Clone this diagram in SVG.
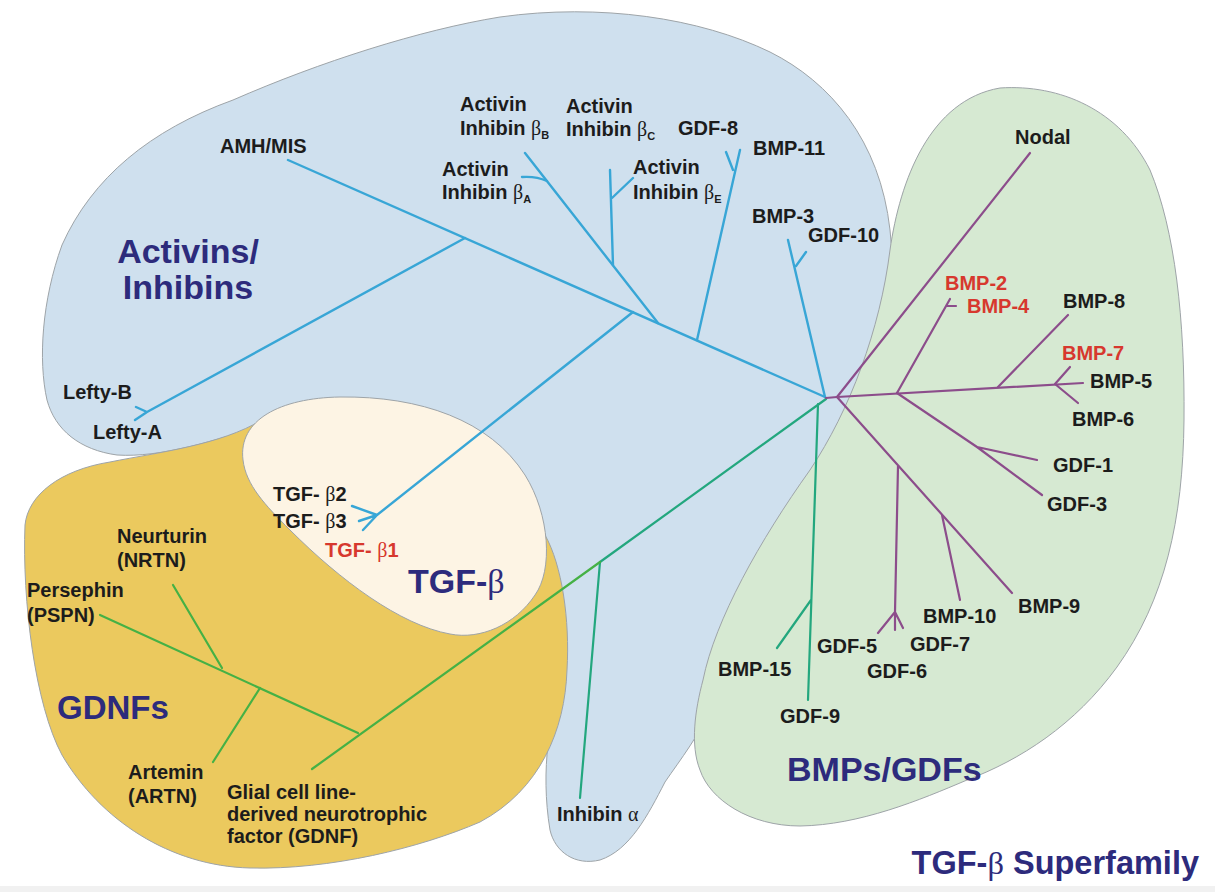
<svg xmlns="http://www.w3.org/2000/svg" width="1215" height="892" viewBox="0 0 1215 892">
<style>
.lbl{font-family:"Liberation Sans",Arial,sans-serif;font-weight:bold;font-size:20px;fill:#1c1c1c}
.red{fill:#d7382e}
.grp{font-family:"Liberation Sans",Arial,sans-serif;font-weight:bold;font-size:34px;fill:#2d2b7c}
.gk{font-family:"Liberation Serif","DejaVu Serif",serif;font-weight:normal}
.sub{font-size:11px}
.bl{stroke:#38a6d6;stroke-width:2.4;fill:none;stroke-linecap:round;stroke-linejoin:round}
.pu{stroke:#8c4d8b;stroke-width:2.2;fill:none;stroke-linecap:round;stroke-linejoin:round}
.tl{stroke:#23a77e;stroke-width:2.2;fill:none;stroke-linecap:round}
.gn{stroke:#45b145;stroke-width:2.2;fill:none;stroke-linecap:round}
.reg{stroke:#9ea4a8;stroke-width:1}
</style>
<rect width="1215" height="892" fill="#ffffff"/>
<rect y="886" width="1215" height="6" fill="#f1f1f1"/>

<g id="regions">
  <path id="region-activins" class="reg" fill="#cfe0ee" d="M 500,17 C 600,3 700,18 770,52 C 830,82 880,140 890,230 C 900,320 880,400 840,460 C 790,540 740,640 715,700 C 700,735 680,760 665,782 C 648,815 630,850 600,860 C 575,866 555,852 550,830 C 545,800 545,770 548,745 L 560,680 L 560,600 L 450,430 L 270,422 C 220,440 160,458 117,455 C 80,450 55,430 47,400 C 38,360 42,300 62,245 C 92,178 150,130 233,100 C 320,62 420,30 500,17 Z"/>
  <path id="region-bmps" class="reg" fill="#d6e9d2" d="M 1000,88 C 1060,84 1120,110 1150,170 C 1175,230 1185,320 1184,420 C 1183,520 1165,600 1117,667 C 1075,725 1020,760 967,780 C 920,800 860,825 800,826 C 750,826 710,800 700,770 C 690,745 695,710 703,680 C 715,620 760,540 810,470 C 850,410 880,330 890,250 C 900,180 930,100 1000,88 Z"/>
  <path id="region-gdnfs" class="reg" fill="#ebc95e" d="M 25,525 C 28,495 60,470 110,462 C 160,452 220,445 262,420 L 350,415 L 500,470 L 545,535 C 562,565 570,620 567,670 C 565,730 540,790 480,822 C 420,848 330,870 250,868 C 170,866 100,820 62,755 C 35,705 22,600 25,525 Z"/>
  <path id="region-tgfb" class="reg" fill="#fdf4e4" d="M 243,460 C 238,420 280,398 340,397 C 420,396 490,420 525,475 C 550,515 553,570 535,595 C 515,625 480,640 450,634 C 400,625 340,580 290,530 C 265,505 246,485 243,460 Z"/>
</g>

<g id="connectors">
  <path class="bl" d="M 288,160 L 825,397"/>
  <path class="bl" d="M 465,238 L 147,412 M 147,412 L 136,407 M 147,412 L 135,420"/>
  <path class="bl" d="M 633,312 L 377,515 M 377,515 L 352,506 M 377,515 L 359,521 M 377,515 L 363,530"/>
  <path class="bl" d="M 658,323 L 525,153"/>
  <path class="bl" d="M 547,181 Q 536,176 522,177"/>
  <path class="bl" d="M 613,265 L 610,170 M 612,198 L 633,178"/>
  <path class="bl" d="M 697,340 L 740,150 M 733,170 L 726,152"/>
  <path class="bl" d="M 825,397 L 788,240 M 796,266 L 806,252"/>
  <path class="tl" d="M 826,399 L 600,562"/>
  <path class="tl" d="M 600,562 L 580,798"/>
  <path class="tl" d="M 818,404 L 808,700 M 811,600 L 777,648"/>
  <path class="gn" d="M 600,562 L 312,769"/>
  <path class="gn" d="M 100,615 L 358,733"/>
  <path class="gn" d="M 173,585 L 222,668"/>
  <path class="gn" d="M 260,688 L 213,762"/>
  <path class="pu" d="M 826,398 L 837,397"/>
  <path class="pu" d="M 837,397 L 1030,153"/>
  <path class="pu" d="M 837,397 L 1083,383"/>
  <path class="pu" d="M 897,393 L 950,299 M 947,306 L 956,306"/>
  <path class="pu" d="M 998,387 L 1068,315"/>
  <path class="pu" d="M 1055,384 L 1070,367 M 1055,384 L 1078,403"/>
  <path class="pu" d="M 897,393 L 977,447 L 1042,495 M 977,447 L 1037,460"/>
  <path class="pu" d="M 837,397 L 1012,593"/>
  <path class="pu" d="M 898,466 L 895,612 M 895,612 L 878,633 M 895,612 L 895,630 M 895,612 L 903,628"/>
  <path class="pu" d="M 942,515 L 960,600"/>
</g>

<g id="group-labels">
  <text id="t-activins" class="grp" text-anchor="middle"><tspan x="188" y="263">Activins/</tspan><tspan x="188" y="299">Inhibins</tspan></text>
  <text id="t-tgfb" class="grp" x="408" y="593">TGF-<tspan class="gk">β</tspan></text>
  <text id="t-gdnfs" class="grp" x="57" y="719" style="font-size:33px">GDNFs</text>
  <text id="t-bmps" class="grp" x="787" y="781">BMPs/GDFs</text>
  <text id="t-title" class="grp" x="1199" y="874" text-anchor="end" style="font-size:32.5px">TGF-<tspan class="gk">β</tspan> Superfamily</text>
</g>

<g id="n-amh"><text class="lbl" x="220" y="153">AMH/MIS</text></g>
<g id="n-betaB"><text class="lbl" x="460" y="111">Activin</text><text class="lbl" x="460" y="135">Inhibin <tspan class="gk">β</tspan><tspan class="sub" dy="4">B</tspan></text></g>
<g id="n-betaC"><text class="lbl" x="566" y="113">Activin</text><text class="lbl" x="566" y="136">Inhibin <tspan class="gk">β</tspan><tspan class="sub" dy="4">C</tspan></text></g>
<g id="n-betaA"><text class="lbl" x="442" y="176">Activin</text><text class="lbl" x="442" y="199">Inhibin <tspan class="gk">β</tspan><tspan class="sub" dy="4">A</tspan></text></g>
<g id="n-betaE"><text class="lbl" x="633" y="174">Activin</text><text class="lbl" x="633" y="199">Inhibin <tspan class="gk">β</tspan><tspan class="sub" dy="4">E</tspan></text></g>
<g id="n-gdf8"><text class="lbl" x="678" y="135">GDF-8</text></g>
<g id="n-bmp11"><text class="lbl" x="753" y="155">BMP-11</text></g>
<g id="n-bmp3"><text class="lbl" x="752" y="223">BMP-3</text></g>
<g id="n-gdf10"><text class="lbl" x="808" y="242">GDF-10</text></g>
<g id="n-nodal"><text class="lbl" x="1015" y="144">Nodal</text></g>
<g id="n-bmp2"><text class="lbl red" x="945" y="290">BMP-2</text></g>
<g id="n-bmp4"><text class="lbl red" x="967" y="313">BMP-4</text></g>
<g id="n-bmp8"><text class="lbl" x="1063" y="308">BMP-8</text></g>
<g id="n-bmp7"><text class="lbl red" x="1062" y="360">BMP-7</text></g>
<g id="n-bmp5"><text class="lbl" x="1090" y="388">BMP-5</text></g>
<g id="n-bmp6"><text class="lbl" x="1072" y="426">BMP-6</text></g>
<g id="n-gdf1"><text class="lbl" x="1053" y="472">GDF-1</text></g>
<g id="n-gdf3"><text class="lbl" x="1047" y="511">GDF-3</text></g>
<g id="n-bmp9"><text class="lbl" x="1018" y="613">BMP-9</text></g>
<g id="n-bmp10"><text class="lbl" x="923" y="623">BMP-10</text></g>
<g id="n-gdf5"><text class="lbl" x="817" y="653">GDF-5</text></g>
<g id="n-gdf7"><text class="lbl" x="910" y="651">GDF-7</text></g>
<g id="n-gdf6"><text class="lbl" x="867" y="678">GDF-6</text></g>
<g id="n-bmp15"><text class="lbl" x="718" y="676">BMP-15</text></g>
<g id="n-gdf9"><text class="lbl" x="780" y="723">GDF-9</text></g>
<g id="n-inhibin-a"><text class="lbl" x="557" y="821">Inhibin <tspan class="gk">α</tspan></text></g>
<g id="n-leftyB"><text class="lbl" x="63" y="399">Lefty-B</text></g>
<g id="n-leftyA"><text class="lbl" x="93" y="439">Lefty-A</text></g>
<g id="n-tgfb2"><text class="lbl" x="273" y="501">TGF- <tspan class="gk">β</tspan>2</text></g>
<g id="n-tgfb3"><text class="lbl" x="273" y="528">TGF- <tspan class="gk">β</tspan>3</text></g>
<g id="n-tgfb1"><text class="lbl red" x="325" y="557">TGF- <tspan class="gk">β</tspan>1</text></g>
<g id="n-nrtn"><text class="lbl" x="117" y="543">Neurturin</text><text class="lbl" x="117" y="567">(NRTN)</text></g>
<g id="n-pspn"><text class="lbl" x="27" y="597">Persephin</text><text class="lbl" x="27" y="622">(PSPN)</text></g>
<g id="n-artn"><text class="lbl" x="128" y="779">Artemin</text><text class="lbl" x="128" y="803">(ARTN)</text></g>
<g id="n-gdnf"><text class="lbl" x="227" y="799">Glial cell line-</text><text class="lbl" x="227" y="821">derived neurotrophic</text><text class="lbl" x="227" y="843">factor (GDNF)</text></g>
</svg>
